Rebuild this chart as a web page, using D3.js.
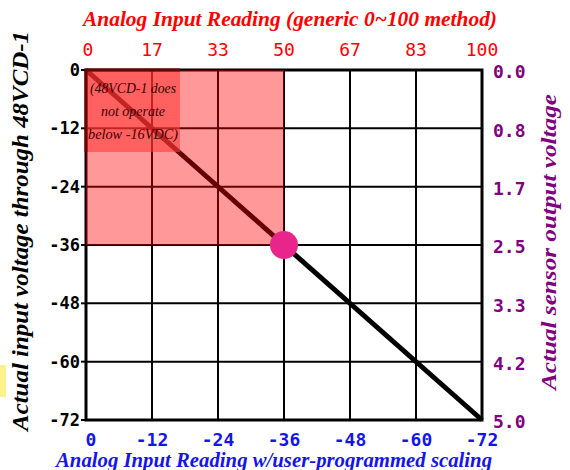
<!DOCTYPE html>
<html>
<head>
<meta charset="utf-8">
<script src="https://cdn.jsdelivr.net/npm/d3@7"></script>
<style>
  body { margin: 0; background: #fff; }
  svg { display: block; }
</style>
</head>
<body>
<div id="chart"></div>
<script>
// chart values
var scaledTicks = [0, -12, -24, -36, -48, -60, -72]      // bottom axis (user scaling)
var voltTicks = [0, -12, -24, -36, -48, -60, -72]        // left axis (input voltage)
var genericTicks = ["0", "17", "33", "50", "67", "83", "100"]  // top axis
var sensorTicks = ["0.0", "0.8", "1.7", "2.5", "3.3", "4.2", "5.0"] // right axis
var lineX = [0, -72]
var lineY = [0, -72]
var cutoffX = -36   // shaded "does not operate" zone ends here
var cutoffY = -36
var noteLines = ["(48VCD-1 does", "not operate", "below -16VDC)"]

var W = 570, H = 470
// note: "top" is a read-only window global, so use m* names
var mLeft = 86, mRight = 482, mTop = 70, mBottom = 420

var svg = d3.select("#chart").append("svg")
    .attr("width", W)
    .attr("height", H)

var x = d3.scaleLinear().domain([0, -72]).range([mLeft, mRight])
var y = d3.scaleLinear().domain([0, -72]).range([mTop, mBottom])
var xTop = d3.scalePoint().domain(genericTicks).range([mLeft, mRight])
var yRight = d3.scalePoint().domain(sensorTicks).range([mTop, mBottom])

var mono = "'DejaVu Sans Mono', 'Liberation Mono', monospace"
var serif = "'Liberation Serif', 'DejaVu Serif', serif"

// yellow tab at the left edge
svg.append("rect")
    .attr("x", 0).attr("y", 365)
    .attr("width", 6).attr("height", 32)
    .attr("fill", "#fff28c")

// grid
svg.append("g").selectAll("line")
    .data(scaledTicks)
    .enter().append("line")
    .attr("x1", function(d) { return x(d) })
    .attr("x2", function(d) { return x(d) })
    .attr("y1", mTop).attr("y2", mBottom)
    .attr("stroke", "#000").attr("stroke-width", 2)

svg.append("g").selectAll("line")
    .data(voltTicks)
    .enter().append("line")
    .attr("y1", function(d) { return y(d) })
    .attr("y2", function(d) { return y(d) })
    .attr("x1", mLeft).attr("x2", mRight)
    .attr("stroke", "#000").attr("stroke-width", 2)

// left ticks
svg.append("g").selectAll("line")
    .data(voltTicks)
    .enter().append("line")
    .attr("y1", function(d) { return y(d) })
    .attr("y2", function(d) { return y(d) })
    .attr("x1", mLeft - 5).attr("x2", mLeft)
    .attr("stroke", "#000").attr("stroke-width", 2)

// the transfer line
svg.append("line")
    .attr("x1", x(lineX[0])).attr("y1", y(lineY[0]))
    .attr("x2", x(lineX[1])).attr("y2", y(lineY[1]))
    .attr("stroke", "#000").attr("stroke-width", 5)

// border
svg.append("rect")
    .attr("x", mLeft).attr("y", mTop)
    .attr("width", mRight - mLeft).attr("height", mBottom - mTop)
    .attr("fill", "none").attr("stroke", "#000").attr("stroke-width", 3)

// shaded zone on top (semi transparent red)
svg.append("rect")
    .attr("x", x(0)).attr("y", y(0))
    .attr("width", x(cutoffX) - x(0))
    .attr("height", y(cutoffY) - y(0))
    .attr("fill", "#ff0000").attr("fill-opacity", 0.4)

// note box
svg.append("rect")
    .attr("x", mLeft).attr("y", mTop)
    .attr("width", 94).attr("height", 82)
    .attr("fill", "#ff3c3c").attr("fill-opacity", 0.6)
svg.append("path")
    .attr("d", "M" + (mLeft + 94) + "," + mTop + "H" + mLeft + "V" + (mTop + 82))
    .attr("fill", "none").attr("stroke", "#6e0000").attr("stroke-width", 3)

svg.append("g").selectAll("text")
    .data(noteLines)
    .enter().append("text")
    .attr("x", mLeft + 47)
    .attr("y", function(d, i) { return 93 + i * 23 })
    .attr("text-anchor", "middle")
    .attr("textLength", function(d, i) { return [86, 64, 90][i] })
    .attr("lengthAdjust", "spacingAndGlyphs")
    .style("font-family", serif)
    .style("font-style", "italic")
    .style("font-size", "15px")
    .attr("fill", "#3c0000")
    .text(function(d) { return d })

// marker
svg.append("circle")
    .attr("cx", x(cutoffX)).attr("cy", y(cutoffY))
    .attr("r", 14)
    .attr("fill", "#e8258a")

// left labels
svg.append("g").selectAll("text")
    .data(voltTicks)
    .enter().append("text")
    .attr("x", mLeft - 6)
    .attr("y", function(d) { return y(d) })
    .attr("dy", "0.35em")
    .attr("text-anchor", "end")
    .style("font-family", mono)
    .style("font-weight", "bold")
    .style("font-size", "17px")
    .attr("fill", "#000")
    .text(function(d) { return d })

// bottom labels
svg.append("g").selectAll("text")
    .data(scaledTicks)
    .enter().append("text")
    .attr("x", function(d) { return x(d) + (d == 0 ? 5 : 0) })
    .attr("y", 446)
    .attr("text-anchor", "middle")
    .style("font-family", mono)
    .style("font-weight", "bold")
    .style("font-size", "18px")
    .attr("fill", "#1515e6")
    .text(function(d) { return d })

// top labels
svg.append("g").selectAll("text")
    .data(genericTicks)
    .enter().append("text")
    .attr("x", function(d) { return xTop(d) + (d == "0" ? 2 : 0) })
    .attr("y", 56)
    .attr("text-anchor", "middle")
    .style("font-family", mono)
    .style("font-size", "18px")
    .attr("fill", "#ff0000")
    .text(function(d) { return d })

// right labels
svg.append("g").selectAll("text")
    .data(sensorTicks)
    .enter().append("text")
    .attr("x", mRight + 11)
    .attr("y", function(d) { return yRight(d) + 2 })
    .attr("dy", "0.35em")
    .style("font-family", mono)
    .style("font-weight", "bold")
    .style("font-size", "18px")
    .attr("fill", "#800080")
    .text(function(d) { return d })

// axis titles
function title(tx, ty, rot, len, size, color, txt) {
    svg.append("text")
        .attr("transform", "translate(" + tx + "," + ty + ")" + (rot ? " rotate(-90)" : ""))
        .attr("text-anchor", "middle")
        .attr("textLength", len)
        .attr("lengthAdjust", "spacingAndGlyphs")
        .style("font-family", serif)
        .style("font-weight", "bold").style("font-style", "italic")
        .style("font-size", size + "px")
        .attr("fill", color)
        .text(txt)
}

title(290, 26, false, 414, 20, "#ff0000", "Analog Input Reading (generic 0~100 method)")
title(274, 467, false, 436, 20, "#1515e6", "Analog Input Reading w/user-programmed scaling")
title(28, 231, true, 400, 23, "#000", "Actual input voltage through 48VCD-1")
title(556, 242, true, 296, 22, "#800080", "Actual sensor output voltage")
</script>
</body>
</html>
